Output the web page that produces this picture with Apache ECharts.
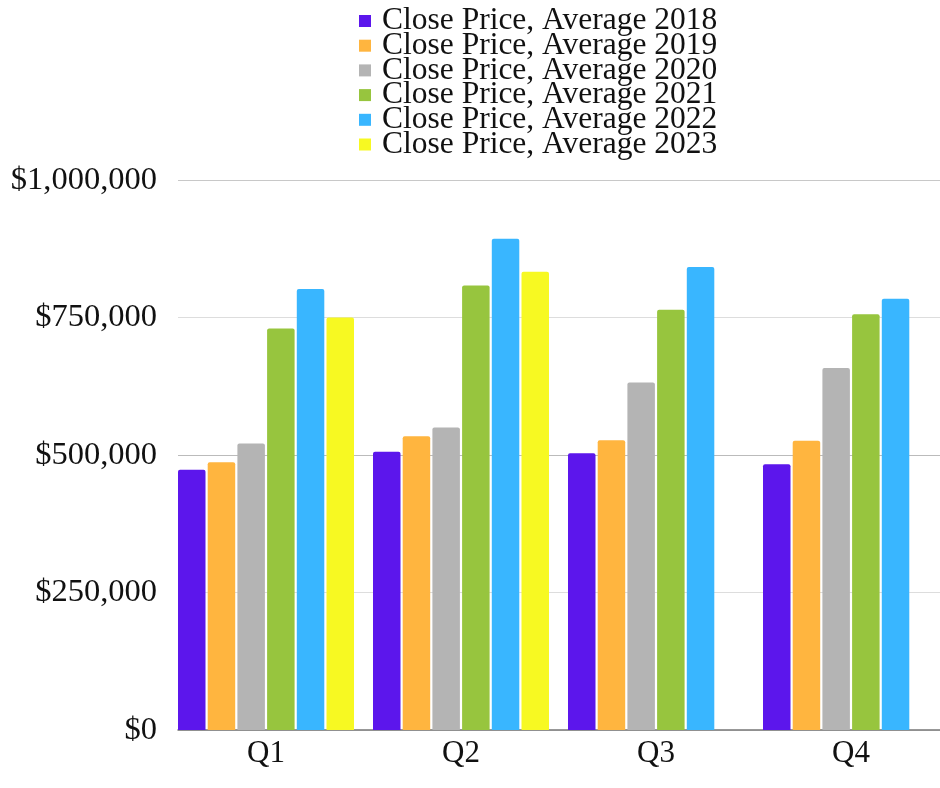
<!DOCTYPE html>
<html>
<head>
<meta charset="utf-8">
<script src="https://cdn.jsdelivr.net/npm/echarts@6/dist/echarts.min.js"></script>
<style>html,body{margin:0;padding:0;background:#fff}#c{width:940px;height:788px}</style>
</head>
<body>
<div id="c"></div>
<script>
const quarters = ['Q1', 'Q2', 'Q3', 'Q4'];
const seriesNames = ['Close Price, Average 2018', 'Close Price, Average 2019', 'Close Price, Average 2020', 'Close Price, Average 2021', 'Close Price, Average 2022', 'Close Price, Average 2023'];
const v2018 = [473000, 506000, 503000, 483000];
const v2019 = [487000, 534000, 527000, 526000];
const v2020 = [521000, 550000, 632000, 658000];
const v2021 = [730000, 808000, 764000, 756000];
const v2022 = [802000, 893000, 842000, 784000];
const v2023 = [750000, 833000, null, null];
const yTicks = [0, 250000, 500000, 750000, 1000000];
const colors = ['#5c16ec', '#ffb53f', '#b4b4b4', '#97c53e', '#39b6ff', '#f7f922'];

const allValues = [v2018, v2019, v2020, v2021, v2022, v2023];
const FONT = 'Liberation Serif';
const fmt = v => '$' + v.toLocaleString('en-US');

const chart = echarts.init(document.getElementById('c'), null, {renderer: 'canvas'});
chart.setOption({
  animation: false,
  color: colors,
  legend: {
    orient: 'vertical',
    left: 354,
    top: 0,
    itemWidth: 12,
    itemHeight: 12,
    itemGap: -7.3,
    icon: 'rect',
    data: seriesNames,
    textStyle: {fontFamily: FONT, fontSize: 31.5, color: '#111', padding: [0, 0, 0, 6]}
  },
  grid: [
    {left: 178, right: 0, top: 180, bottom: 58, outerBoundsMode: 'none'},
    {left: 168.5, width: 780, top: 180, bottom: 58, outerBoundsMode: 'none'}
  ],
  xAxis: [
    {type: 'category', gridIndex: 0, data: quarters,
     axisLine: {lineStyle: {color: '#777', width: 1.5}}, axisTick: {show: false}, axisLabel: {show: false}},
    {type: 'category', gridIndex: 1, data: quarters,
     axisLine: {show: false}, axisTick: {show: false},
     axisLabel: {fontFamily: FONT, fontSize: 31, color: '#111', margin: 8}}
  ],
  yAxis: [
    {type: 'value', gridIndex: 0, min: 0, max: 1000000, interval: 250000,
     axisLabel: {fontFamily: FONT, fontSize: 32.5, color: '#111', margin: 21, formatter: fmt},
     splitLine: {lineStyle: {color: ['#ddd', '#ddd', '#bbb', '#ddd', '#c8c8c8'], width: 1}},
     axisLine: {show: false}, axisTick: {show: false}},
    {type: 'value', gridIndex: 1, min: 0, max: 1000000, show: false, splitLine: {show: false}}
  ],
  series: seriesNames.map((name, i) => ({
    name: name,
    type: 'bar',
    xAxisIndex: 1,
    yAxisIndex: 1,
    data: allValues[i],
    barWidth: 27.5,
    barGap: '8%',
    itemStyle: {color: colors[i], borderRadius: [2, 2, 0, 0]}
  }))
});
</script>
</body>
</html>
